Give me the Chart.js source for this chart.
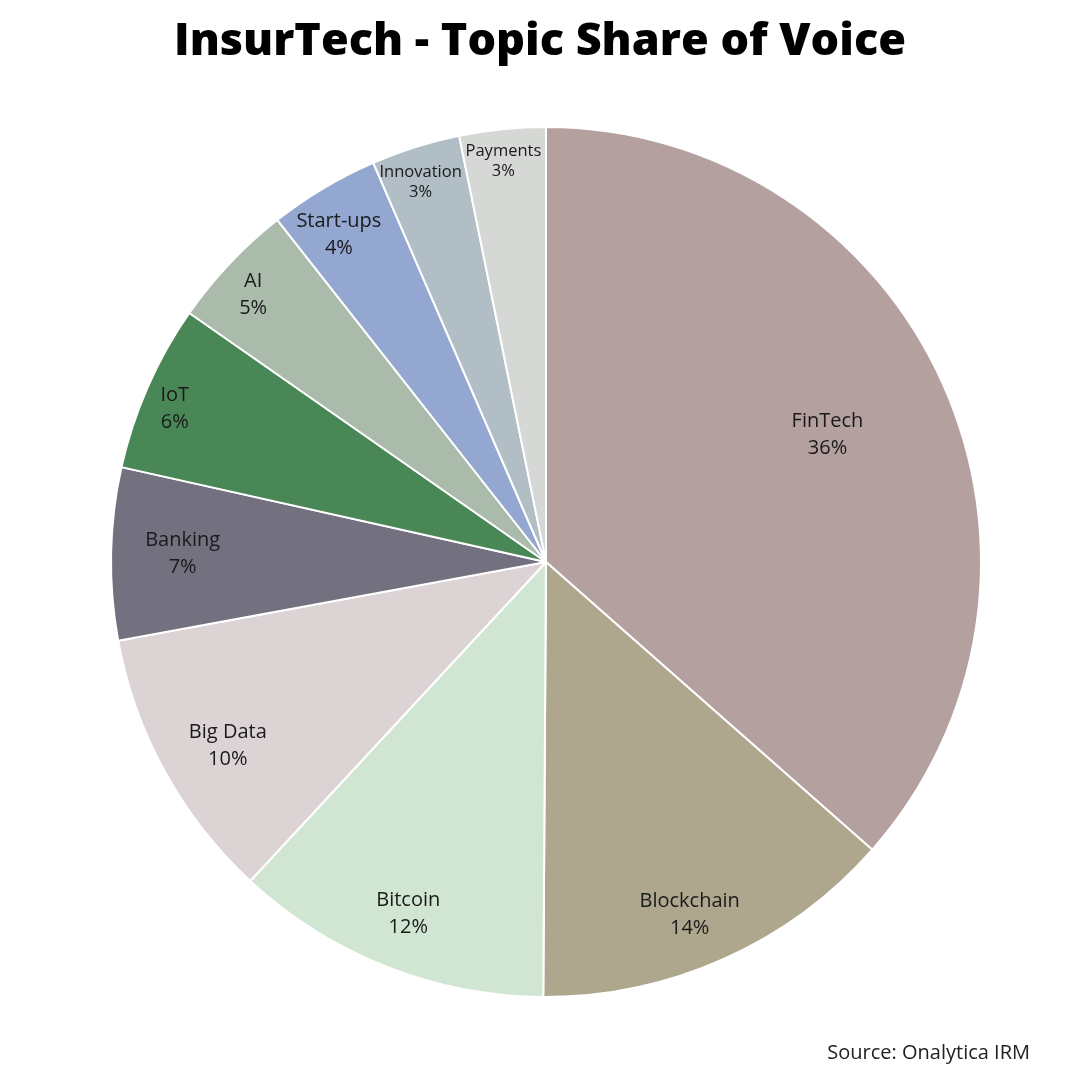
<!DOCTYPE html>
<html>
<head>
<meta charset="utf-8">
<script src="https://cdn.jsdelivr.net/npm/chart.js@4"></script>
<style>
  html, body { margin: 0; padding: 0; background: #fff; }
  #wrap { width: 1080px; height: 1080px; position: relative; }
</style>
</head>
<body>
<div id="wrap"><canvas id="pieChart" width="1080" height="1080"></canvas></div>
<script>
// Data
const topics = ['FinTech', 'Blockchain', 'Bitcoin', 'Big Data', 'Banking', 'IoT', 'AI', 'Start-ups', 'Innovation', 'Payments'];
const shares = [36.5, 13.6, 11.8, 10.2, 6.4, 6.2, 4.7, 4.1, 3.3, 3.2];
const shareLabels = ['36%', '14%', '12%', '10%', '7%', '6%', '5%', '4%', '3%', '3%'];

// Styling
const sliceColors = ['#b3a09f', '#aea78e', '#d0e6d2', '#dcd3d4', '#73717f', '#4a8757', '#aabaab', '#93a7d1', '#b1bec6', '#d6d8d5'];
const labelRadius = [0.71, 0.87, 0.86, 0.84, 0.84, 0.93, 0.92, 0.89, 0.93, 0.93];
const labelNudge = [[0, 0], [-11, 7], [0, 4], [2, 8], [2, -1], [-1, 10], [-2, 8], [-9, 5], [-4, 6], [-2, 2]];
const labelSize = [20, 20, 20, 20, 20, 20, 20, 20, 16.5, 16.5];

// Draw labels inside slices
const sliceLabels = {
    id: 'sliceLabels',
    afterDatasetsDraw(chart) {
        const ctx = chart.ctx;
        const meta = chart.getDatasetMeta(0);
        ctx.save();
        ctx.textAlign = 'center';
        ctx.textBaseline = 'middle';
        ctx.fillStyle = '#1a1a1a';
        meta.data.forEach((arc, i) => {
            const p = arc.getProps(['x', 'y', 'startAngle', 'endAngle', 'outerRadius'], true);
            const mid = (p.startAngle + p.endAngle) / 2;
            const r = p.outerRadius * labelRadius[i];
            const cx = p.x + Math.cos(mid) * r + labelNudge[i][0];
            const cy = p.y + Math.sin(mid) * r + labelNudge[i][1];
            const size = labelSize[i];
            const gap = size > 18 ? 13.5 : 10;
            ctx.font = size + 'px "Open Sans"';
            ctx.fillText(topics[i], cx, cy - gap);
            ctx.fillText(shareLabels[i], cx, cy + gap);
        });
        ctx.restore();
    }
};

// Title and source text
const pageText = {
    id: 'pageText',
    afterDraw(chart) {
        const ctx = chart.ctx;
        ctx.save();
        ctx.fillStyle = '#000';
        ctx.textAlign = 'center';
        ctx.textBaseline = 'middle';
        ctx.font = '800 45px "Open Sans"';
        ctx.fillText('InsurTech - Topic Share of Voice', 540, 42);
        ctx.textAlign = 'right';
        ctx.fillStyle = '#222';
        ctx.font = '20px "Open Sans"';
        ctx.fillText('Source: Onalytica IRM', 1030, 1053);
        ctx.restore();
    }
};

new Chart(document.getElementById('pieChart'), {
    type: 'pie',
    data: {
        labels: topics,
        datasets: [{
            data: shares,
            backgroundColor: sliceColors,
            borderColor: '#ffffff',
            borderWidth: 2,
            hoverOffset: 0
        }]
    },
    options: {
        responsive: false,
        animation: false,
        layout: {
            padding: { left: 110, right: 98, top: 126, bottom: 82 }
        },
        plugins: {
            legend: { display: false },
            tooltip: { enabled: false }
        }
    },
    plugins: [sliceLabels, pageText]
});
</script>
</body>
</html>
